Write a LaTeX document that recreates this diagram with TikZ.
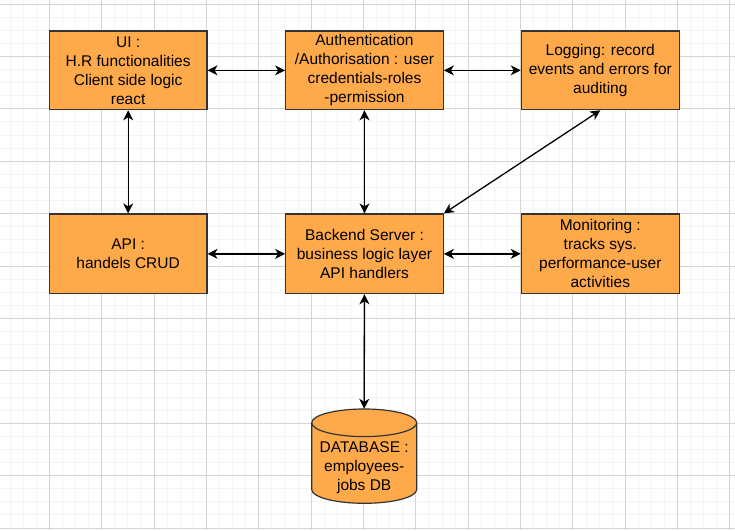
\documentclass[tikz,border=0pt]{standalone}
\usepackage{fontspec}
\setmainfont{Liberation Sans}
\usetikzlibrary{arrows.meta}
\definecolor{boxfill}{HTML}{FFAA4A}
\definecolor{boxline}{HTML}{333333}
\definecolor{gridminor}{HTML}{F4F4F4}
\definecolor{gridmajor}{HTML}{D4D4D4}
\tikzset{
  block/.style={draw=boxline, fill=boxfill, line width=1.2pt, inner sep=0pt,
    minimum width=157.6pt, align=center, text=black,
    font=\fontsize{15.5}{19}\selectfont},
  dbtext/.style={inner sep=0pt, align=center, text=black,
    font=\fontsize{15.5}{19}\selectfont},
  link/.style={line width=1.3pt, black,
    {Stealth[length=10pt,width=10pt,inset=3pt]}-{Stealth[length=10pt,width=10pt,inset=3pt]}},
  gminor/.style={gridminor, line width=1pt},
  gmajor/.style={gridmajor, line width=1pt}
}
\begin{document}
\begin{tikzpicture}[x=1pt,y=-1pt]
\useasboundingbox (0,0) rectangle (735,530);
\fill[white] (0,0) rectangle (735,530);
% background grid: fine lines, then every fourth line darker
\foreach \i in {0,...,57} {
  \draw[gminor] ({-3.06+13.09*\i},0) -- ({-3.06+13.09*\i},530);
}
\foreach \j in {0,...,41} {
  \draw[gminor] (0,{-9.1+13.1*\j}) -- (735,{-9.1+13.1*\j});
}
\foreach \i in {0,...,14} {
  \draw[gmajor] ({-3.06+52.36*\i},0) -- ({-3.06+52.36*\i},530);
}
\foreach \j in {0,...,10} {
  \draw[gmajor] (0,{4+52.4*\j}) -- (735,{4+52.4*\j});
}

% top row
\node[block, minimum height=78.7pt] (ui) at (128.15,70.35)
  {UI :\\H.R functionalities\\Client side logic\\react};
\node[block, minimum height=78.7pt] (auth) at (364.5,70.35)
  {Authentication\\/Authorisation : user\\credentials-roles\\-permission};
\node[block, minimum height=78.7pt, minimum width=158pt] (log) at (600.3,70.35)
  {Logging: record\\events and errors for\\auditing};

% middle row
\node[block, minimum height=79.7pt] (api) at (128.15,253.85)
  {API :\\handels CRUD};
\node[block, minimum height=79.7pt] (back) at (364.5,253.85)
  {Backend Server :\\business logic layer\\API handlers};
\node[block, minimum height=79.7pt, minimum width=158pt] (mon) at (600.3,253.85)
  {Monitoring :\\tracks sys.\\performance-user\\activities};

% database cylinder
\node[inner sep=0pt, minimum width=105pt, minimum height=94.3pt] (db) at (364.2,456.15) {};
\path[draw=boxline, fill=boxfill, line width=1.2pt]
  (311.7,422.8) -- (311.7,489.5)
  arc[start angle=180, end angle=0, x radius=52.5, y radius=13.8]
  -- (416.7,422.8)
  arc[start angle=0, end angle=-180, x radius=52.5, y radius=13.8] -- cycle;
\draw[boxline, line width=1.2pt] (311.7,422.8)
  arc[start angle=180, end angle=0, x radius=52.5, y radius=13.8];
\node[dbtext] (dblabel) at (364.2,467.5) {DATABASE :\\employees-\\jobs DB};

% connectors
\draw[link] (ui.east) -- (auth.west);
\draw[link] (auth.east) -- (log.west);
\draw[link] (ui.south) -- (api.north);
\draw[link] (auth.south) -- (back.north);
\draw[link] (log.south) -- (back.north east);
\draw[link] (api.east) -- (back.west);
\draw[link] (back.east) -- (mon.west);
\draw[link] (back.south) -- (db.north);
\end{tikzpicture}
\end{document}
